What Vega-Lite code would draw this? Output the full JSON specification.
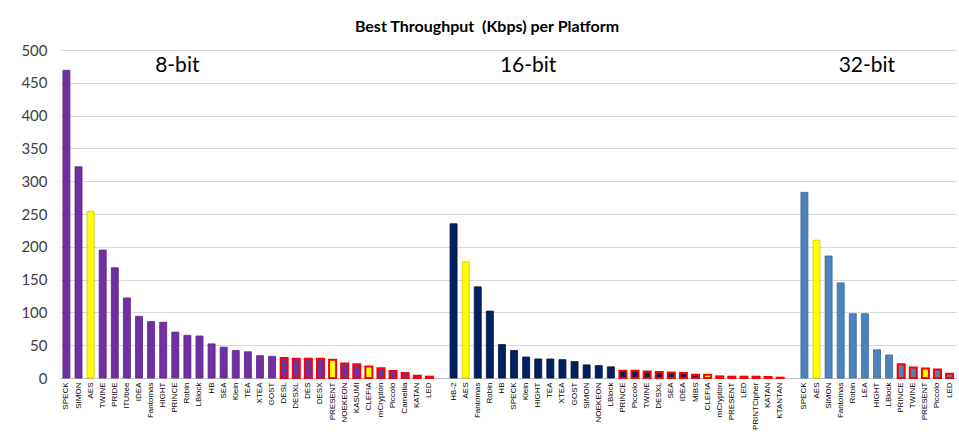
{
  "$schema": "https://vega.github.io/schema/vega-lite/v6.json",
  "autosize": {"type": "none"},
  "width": 896,
  "height": 328,
  "padding": {"left": 60, "top": 50, "right": 3, "bottom": 61},
  "background": "white",
  "title": {
    "text": "Best Throughput \u00a0(Kbps) per Platform",
    "font": "Lato",
    "fontSize": 16,
    "fontWeight": "bold",
    "color": "#000000",
    "anchor": "middle",
    "dx": -21,
    "offset": 8
  },
  "config": {
    "view": {"stroke": null},
    "axisX": {
      "title": null,
      "labelExpr": "indexof(datum.value,'|') > 0 ? split(datum.value,'|')[1] : ''",
      "labelAngle": -90,
      "labelFont": "Liberation Sans",
      "labelFontSize": 8,
      "labelColor": "#000000",
      "labelPadding": 4,
      "labelOverlap": false,
      "ticks": false,
      "domain": true,
      "domainColor": "#BFBFBF",
      "grid": false
    },
    "axisY": {
      "title": null,
      "values": [0,50,100,150,200,250,300,350,400,450,500],
      "labelOverlap": false,
      "labelFont": "Lato",
      "labelFontSize": 15,
      "labelColor": "#404040",
      "labelPadding": 13,
      "ticks": false,
      "domain": false,
      "grid": true,
      "gridColor": "#D9D9D9",
      "gridWidth": 1
    }
  },
  "datasets": {
    "bars": [
      {"k": "8|SPECK", "c": "8-bit", "v": 469, "r": false},
      {"k": "8|SIMON", "c": "8-bit", "v": 322, "r": false},
      {"k": "8|AES", "c": "std", "v": 254, "r": false},
      {"k": "8|TWINE", "c": "8-bit", "v": 195, "r": false},
      {"k": "8|PRIDE", "c": "8-bit", "v": 168, "r": false},
      {"k": "8|ITUbee", "c": "8-bit", "v": 122, "r": false},
      {"k": "8|IDEA", "c": "8-bit", "v": 94, "r": false},
      {"k": "8|Fantomas", "c": "8-bit", "v": 86, "r": false},
      {"k": "8|HIGHT", "c": "8-bit", "v": 85, "r": false},
      {"k": "8|PRINCE", "c": "8-bit", "v": 70, "r": false},
      {"k": "8|Robin", "c": "8-bit", "v": 65, "r": false},
      {"k": "8|LBlock", "c": "8-bit", "v": 64, "r": false},
      {"k": "8|HB", "c": "8-bit", "v": 52, "r": false},
      {"k": "8|SEA", "c": "8-bit", "v": 47, "r": false},
      {"k": "8|Klein", "c": "8-bit", "v": 42, "r": false},
      {"k": "8|TEA", "c": "8-bit", "v": 40, "r": false},
      {"k": "8|XTEA", "c": "8-bit", "v": 34, "r": false},
      {"k": "8|GOST", "c": "8-bit", "v": 33, "r": false},
      {"k": "8|DESL", "c": "8-bit", "v": 30.5, "r": true},
      {"k": "8|DESXL", "c": "8-bit", "v": 29.5, "r": true},
      {"k": "8|DES", "c": "8-bit", "v": 29.5, "r": true},
      {"k": "8|DESX", "c": "8-bit", "v": 29.5, "r": true},
      {"k": "8|PRESENT", "c": "std", "v": 28, "r": true},
      {"k": "8|NOEKEON", "c": "8-bit", "v": 22, "r": true},
      {"k": "8|KASUMI", "c": "8-bit", "v": 21, "r": true},
      {"k": "8|CLEFIA", "c": "std", "v": 17.5, "r": true},
      {"k": "8|mCrypton", "c": "8-bit", "v": 15, "r": true},
      {"k": "8|Piccolo", "c": "8-bit", "v": 10.5, "r": true},
      {"k": "8|Camellia", "c": "8-bit", "v": 7.5, "r": true},
      {"k": "8|KATAN", "c": "8-bit", "v": 3.5, "r": true},
      {"k": "8|LED", "c": "8-bit", "v": 2, "r": true},
      {"k": "16|HB-2", "c": "16-bit", "v": 235, "r": false},
      {"k": "16|AES", "c": "std", "v": 177, "r": false},
      {"k": "16|Fantomas", "c": "16-bit", "v": 139, "r": false},
      {"k": "16|Robin", "c": "16-bit", "v": 102, "r": false},
      {"k": "16|HB", "c": "16-bit", "v": 51, "r": false},
      {"k": "16|SPECK", "c": "16-bit", "v": 42, "r": false},
      {"k": "16|Klein", "c": "16-bit", "v": 32, "r": false},
      {"k": "16|HIGHT", "c": "16-bit", "v": 29, "r": false},
      {"k": "16|TEA", "c": "16-bit", "v": 29, "r": false},
      {"k": "16|XTEA", "c": "16-bit", "v": 28, "r": false},
      {"k": "16|GOST", "c": "16-bit", "v": 25, "r": false},
      {"k": "16|SIMON", "c": "16-bit", "v": 20, "r": false},
      {"k": "16|NOEKEON", "c": "16-bit", "v": 19, "r": false},
      {"k": "16|LBlock", "c": "16-bit", "v": 17, "r": false},
      {"k": "16|PRINCE", "c": "16-bit", "v": 11, "r": true},
      {"k": "16|Piccolo", "c": "16-bit", "v": 11, "r": true},
      {"k": "16|TWINE", "c": "16-bit", "v": 10, "r": true},
      {"k": "16|DESXL", "c": "16-bit", "v": 9, "r": true},
      {"k": "16|SEA", "c": "16-bit", "v": 8.5, "r": true},
      {"k": "16|IDEA", "c": "16-bit", "v": 7.5, "r": true},
      {"k": "16|MIBS", "c": "16-bit", "v": 5, "r": true},
      {"k": "16|CLEFIA", "c": "std", "v": 5, "r": true},
      {"k": "16|mCrypton", "c": "16-bit", "v": 2.5, "r": true},
      {"k": "16|PRESENT", "c": "16-bit", "v": 2, "r": true},
      {"k": "16|LED", "c": "16-bit", "v": 2, "r": true},
      {"k": "16|PRINTCipher", "c": "16-bit", "v": 2, "r": true},
      {"k": "16|KATAN", "c": "16-bit", "v": 1.5, "r": true},
      {"k": "16|KTANTAN", "c": "16-bit", "v": 0.5, "r": true},
      {"k": "32|SPECK", "c": "32-bit", "v": 283, "r": false},
      {"k": "32|AES", "c": "std", "v": 210, "r": false},
      {"k": "32|SIMON", "c": "32-bit", "v": 186, "r": false},
      {"k": "32|Fantomas", "c": "32-bit", "v": 145, "r": false},
      {"k": "32|Robin", "c": "32-bit", "v": 98, "r": false},
      {"k": "32|LEA", "c": "32-bit", "v": 98, "r": false},
      {"k": "32|HIGHT", "c": "32-bit", "v": 43, "r": false},
      {"k": "32|LBlock", "c": "32-bit", "v": 35, "r": false},
      {"k": "32|PRINCE", "c": "32-bit", "v": 21, "r": true},
      {"k": "32|TWINE", "c": "32-bit", "v": 16, "r": true},
      {"k": "32|PRESENT", "c": "std", "v": 14.5, "r": true},
      {"k": "32|Piccolo", "c": "32-bit", "v": 13, "r": true},
      {"k": "32|LED", "c": "32-bit", "v": 6.5, "r": true}
    ],
    "groups": [
      {"k": "8|PRINCE", "t": "8-bit", "v": 475},
      {"k": "16|Klein", "t": "16-bit", "v": 475},
      {"k": "32|LEA", "t": "32-bit", "v": 475}
    ]
  },
  "layer": [
    {
      "data": {"name": "bars"},
      "mark": {"type": "bar"},
      "encoding": {
        "x": {
          "field": "k",
          "type": "nominal",
          "sort": null,
          "scale": {
            "domain": ["8|SPECK","8|SIMON","8|AES","8|TWINE","8|PRIDE","8|ITUbee","8|IDEA","8|Fantomas","8|HIGHT","8|PRINCE","8|Robin","8|LBlock","8|HB","8|SEA","8|Klein","8|TEA","8|XTEA","8|GOST","8|DESL","8|DESXL","8|DES","8|DESX","8|PRESENT","8|NOEKEON","8|KASUMI","8|CLEFIA","8|mCrypton","8|Piccolo","8|Camellia","8|KATAN","8|LED","gap1","16|HB-2","16|AES","16|Fantomas","16|Robin","16|HB","16|SPECK","16|Klein","16|HIGHT","16|TEA","16|XTEA","16|GOST","16|SIMON","16|NOEKEON","16|LBlock","16|PRINCE","16|Piccolo","16|TWINE","16|DESXL","16|SEA","16|IDEA","16|MIBS","16|CLEFIA","16|mCrypton","16|PRESENT","16|LED","16|PRINTCipher","16|KATAN","16|KTANTAN","gap2","32|SPECK","32|AES","32|SIMON","32|Fantomas","32|Robin","32|LEA","32|HIGHT","32|LBlock","32|PRINCE","32|TWINE","32|PRESENT","32|Piccolo","32|LED"],
            "paddingInner": 0.42,
            "paddingOuter": 0.24
          }
        },
        "y": {
          "field": "v",
          "type": "quantitative",
          "scale": {"domain": [0, 500], "nice": false}
        },
        "color": {
          "field": "c",
          "type": "nominal",
          "scale": {"domain": ["8-bit","16-bit","32-bit","std"], "range": ["#7030A0","#002060","#4F81BD","#FFFF00"]},
          "legend": null
        },
        "stroke": {
          "condition": {"test": "datum.r", "value": "#FF0000"},
          "field": "c",
          "type": "nominal",
          "scale": {"domain": ["8-bit","16-bit","32-bit","std"], "range": ["#5B2386","#00143F","#3A6AA0","#D0C800"]},
          "legend": null
        },
        "strokeWidth": {"condition": {"test": "datum.r", "value": 2}, "value": 0.8}
      }
    },
    {
      "data": {"name": "groups"},
      "mark": {"type": "text", "font": "Lato", "fontSize": 21, "color": "#000000", "baseline": "middle", "align": "center", "dx": 2},
      "encoding": {
        "x": {"field": "k", "type": "nominal", "sort": null},
        "y": {"field": "v", "type": "quantitative"},
        "text": {"field": "t"}
      }
    }
  ]
}
